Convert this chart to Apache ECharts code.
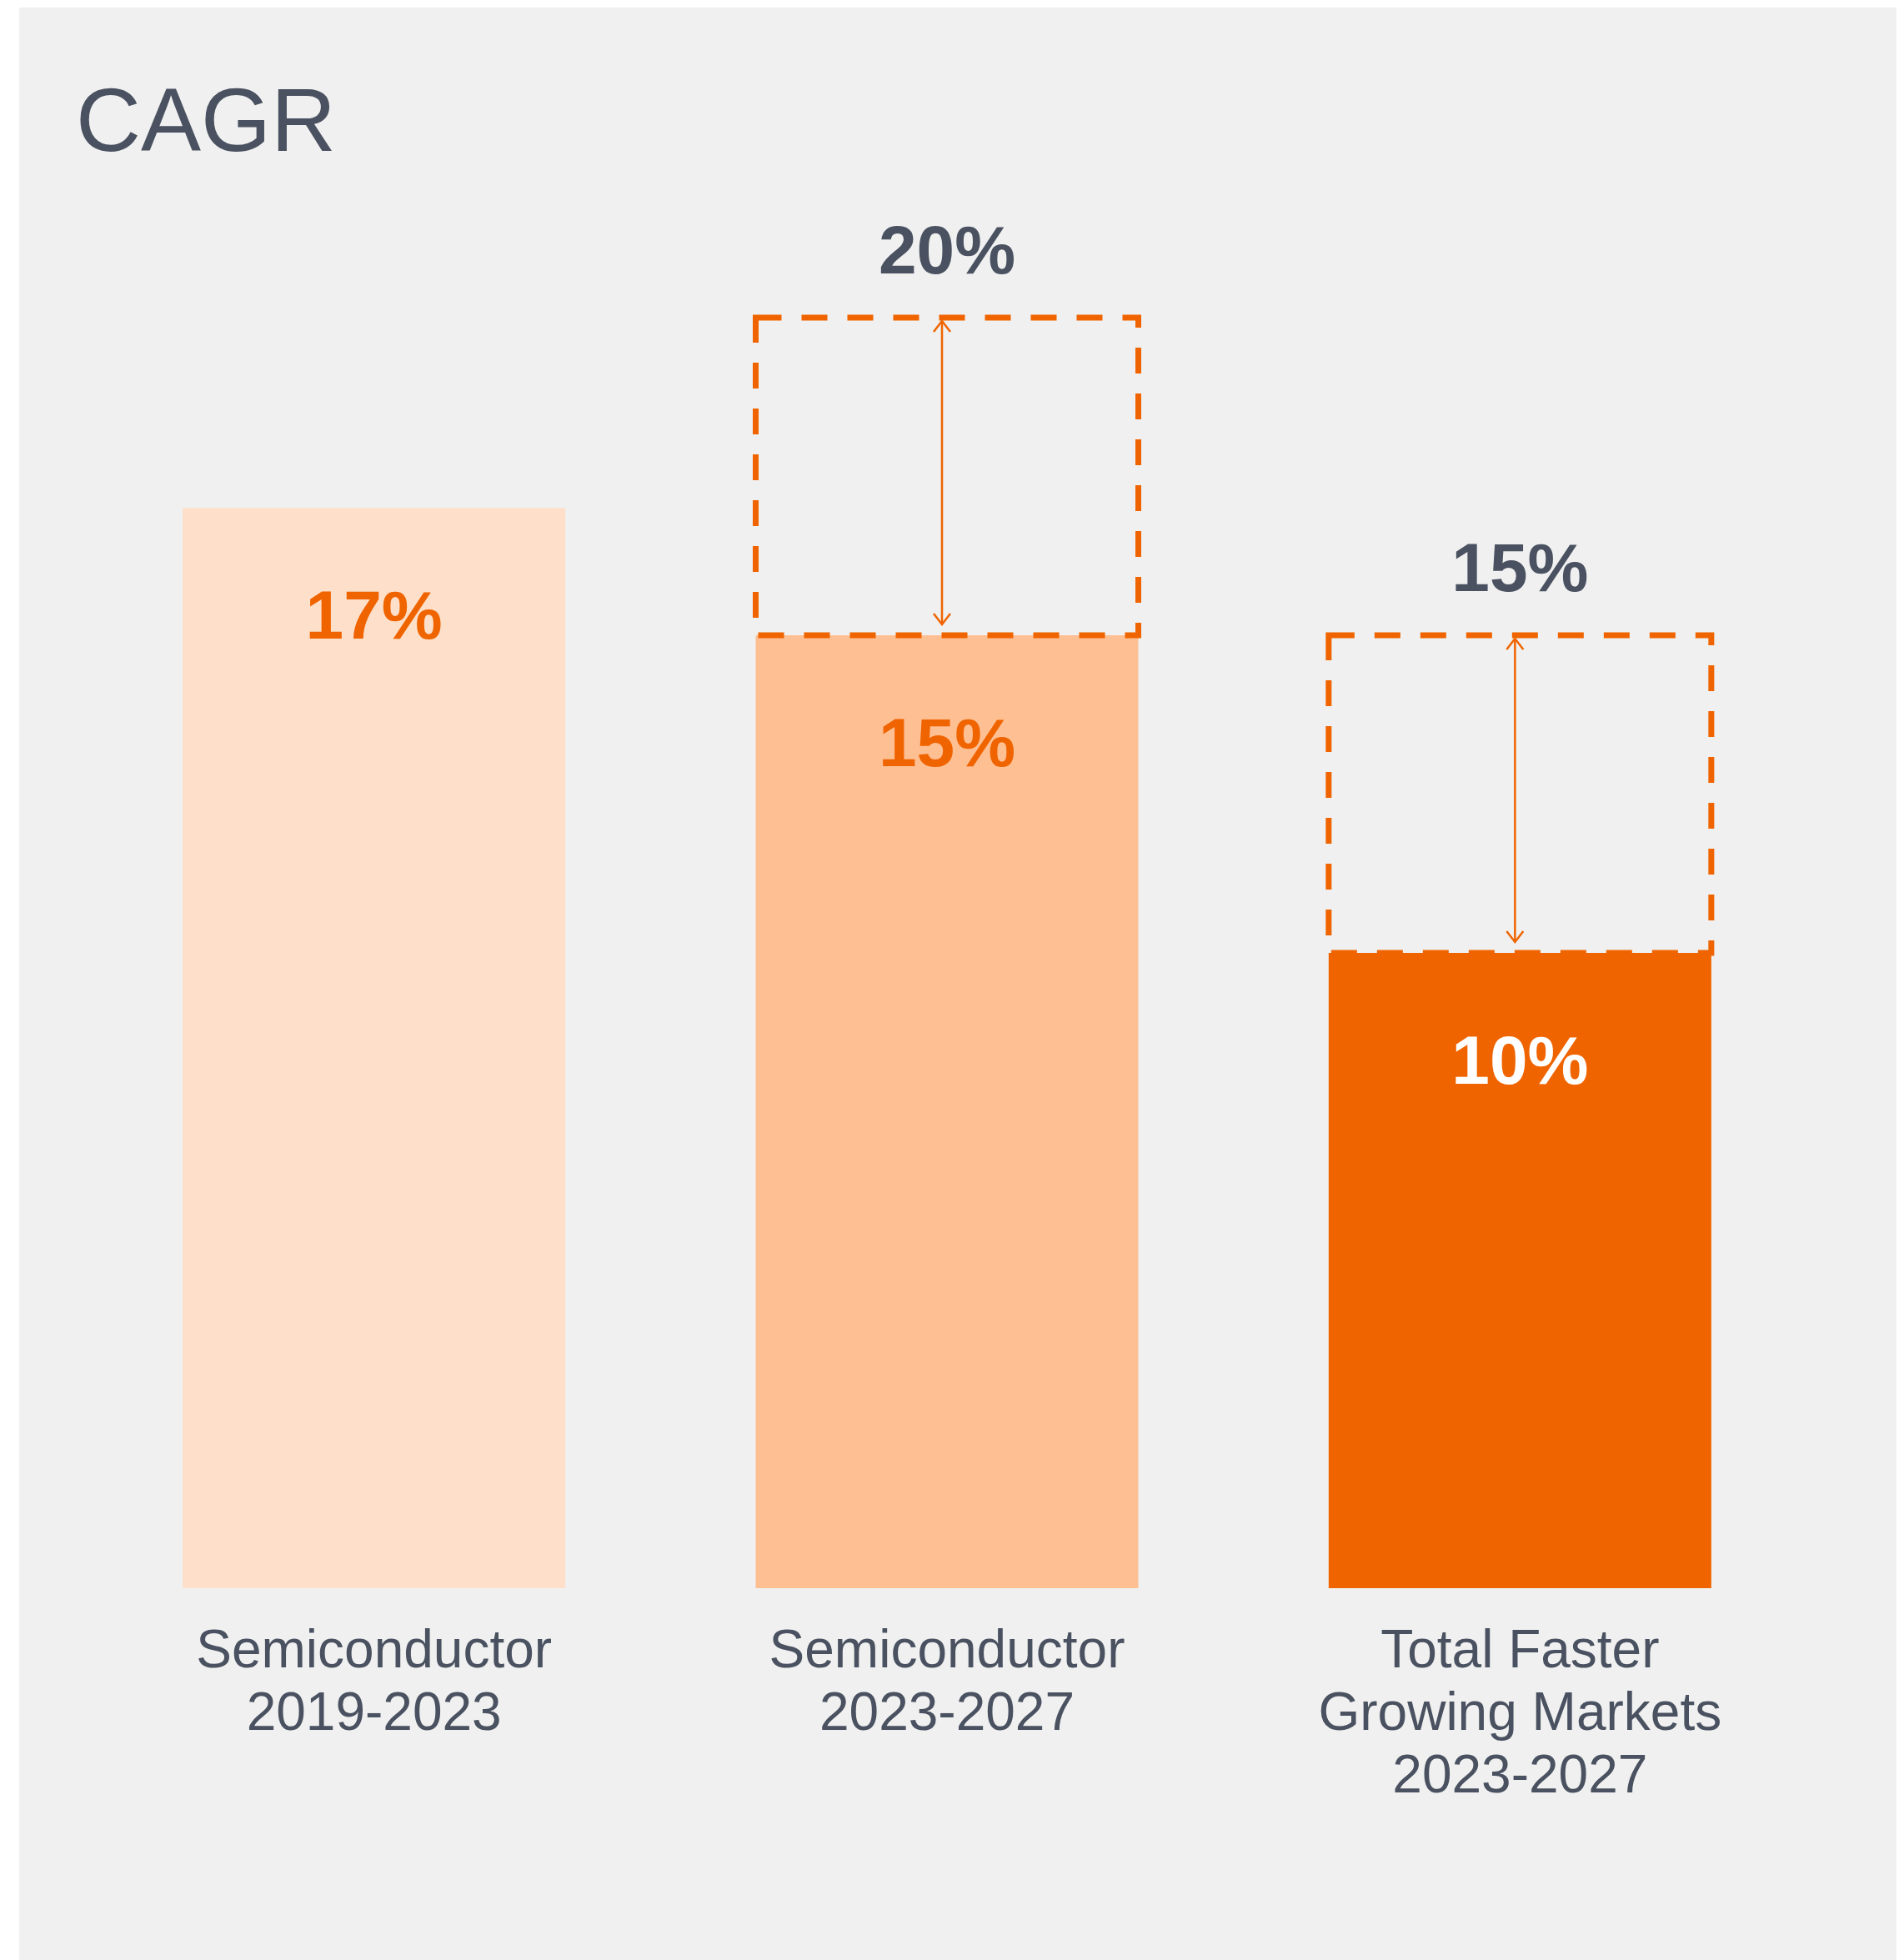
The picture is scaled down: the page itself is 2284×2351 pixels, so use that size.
<!DOCTYPE html>
<html>
<head>
<meta charset="utf-8">
<title>CAGR</title>
<script src="https://cdn.jsdelivr.net/npm/echarts@6/dist/echarts.min.js"></script>
<style>
  html, body { margin: 0; padding: 0; background: #ffffff; }
  #chart { width: 2284px; height: 2351px; }
</style>
</head>
<body>
<div id="chart"></div>
<script>
// Growth rates per period (percent)
const categories = [
  'Semiconductor\n2019-2023',
  'Semiconductor\n2023-2027',
  'Total Faster\nGrowing Markets\n2023-2027'
];
const cagrValues = [17, 15, 10];
// Upper end of the expected range (no range for the historical period)
const upsideValues = [null, 20, 15];

const FONT = '"Liberation Sans", Arial, Helvetica, sans-serif';
const ORANGE = '#F06400';
const INK = '#4A5160';
const BAR_WIDTH = 459;

const barFills = ['#FDDFCA', '#FEBF93', ORANGE];
const barLabelColors = [ORANGE, ORANGE, '#FFFFFF'];

const rangeData = [];
upsideValues.forEach(function (u, i) {
  if (u != null) rangeData.push([i, cagrValues[i], u]);
});

function renderRange(params, api) {
  const idx = api.value(0);
  const base = api.value(1);
  const top = api.value(2);
  const pBase = api.coord([idx, base]);
  const pTop = api.coord([idx, top]);
  const cx = pBase[0];
  const half = BAR_WIDTH / 2;
  const yTop = pTop[1];
  const yBase = pBase[1];
  // the double arrow sits a touch left of the box centre
  const ax = cx - 6;
  const tipTop = yTop + 4;
  const tipBottom = yBase - 13;
  const headW = 10, headH = 13;
  const arrowStyle = { stroke: ORANGE, lineWidth: 2.5, fill: null };
  return {
    type: 'group',
    children: [
      {
        type: 'rect',
        shape: { x: cx - half, y: yTop, width: BAR_WIDTH, height: yBase - yTop },
        style: { fill: null, stroke: ORANGE, lineWidth: 7, lineDash: [31, 24] }
      },
      {
        type: 'line',
        shape: { x1: ax, y1: tipTop, x2: ax, y2: tipBottom },
        style: arrowStyle
      },
      {
        type: 'polyline',
        shape: { points: [[ax - headW, tipTop + headH], [ax, tipTop], [ax + headW, tipTop + headH]] },
        style: arrowStyle
      },
      {
        type: 'polyline',
        shape: { points: [[ax - headW, tipBottom - headH], [ax, tipBottom], [ax + headW, tipBottom - headH]] },
        style: arrowStyle
      },
      {
        type: 'text',
        style: {
          text: top + '%',
          x: cx,
          y: yTop - 76,
          align: 'center',
          verticalAlign: 'middle',
          fill: INK,
          font: 'bold 82px ' + FONT
        }
      }
    ]
  };
}

const chart = echarts.init(document.getElementById('chart'), null, { renderer: 'canvas' });

chart.setOption({
  backgroundColor: '#FFFFFF',
  animation: false,
  graphic: [
    {
      type: 'rect',
      z: -10,
      shape: { x: 23, y: 9, width: 2252, height: 2342 },
      style: { fill: '#EFF0EF' },
      silent: true
    }
  ],
  title: {
    text: 'CAGR',
    left: 91,
    top: 97,
    padding: 0,
    textStyle: {
      fontFamily: FONT,
      fontSize: 108,
      fontWeight: 'normal',
      lineHeight: 108,
      color: INK
    }
  },
  grid: { left: 105, right: 117, top: 381, bottom: 446, containLabel: false },
  xAxis: {
    type: 'category',
    data: categories,
    axisLine: { show: false },
    axisTick: { show: false },
    axisLabel: {
      margin: 40,
      fontFamily: FONT,
      fontSize: 64,
      lineHeight: 75,
      color: INK,
      verticalAlign: 'top',
      interval: 0
    }
  },
  yAxis: {
    type: 'value',
    min: 0,
    max: 20,
    show: false,
    splitLine: { show: false }
  },
  series: [
    {
      type: 'bar',
      barWidth: BAR_WIDTH,
      data: cagrValues.map(function (v, i) {
        return {
          value: v,
          itemStyle: { color: barFills[i] },
          label: { color: barLabelColors[i] }
        };
      }),
      label: {
        show: true,
        position: 'insideTop',
        distance: 134,
        verticalAlign: 'middle',
        formatter: '{c}%',
        fontFamily: FONT,
        fontSize: 82,
        fontWeight: 'bold'
      },
      z: 2
    },
    {
      type: 'custom',
      renderItem: renderRange,
      data: rangeData,
      encode: { x: 0, y: 2 },
      clip: false,
      z: 3
    }
  ]
});
</script>
</body>
</html>
